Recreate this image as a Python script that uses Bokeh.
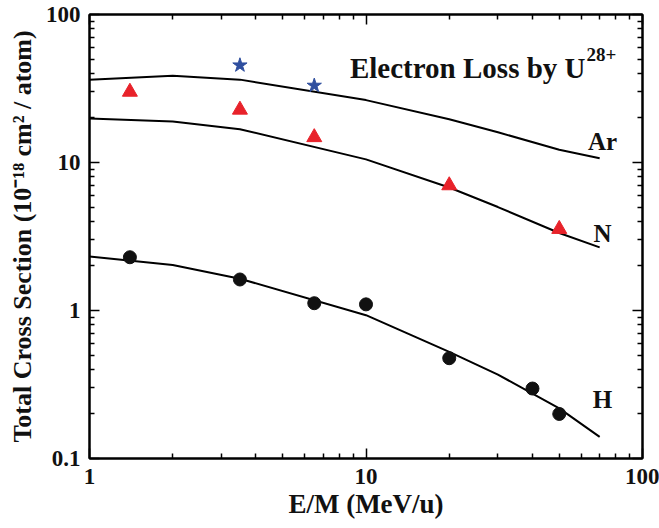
from bokeh.plotting import figure
from bokeh.models import LogAxis, FixedTicker, CustomJSTickFormatter, Label
from bokeh.embed import file_html
from bokeh.resources import INLINE

# ---- data ----
line_x = [1, 2, 3.5, 10, 20, 30, 50, 70]
ar_line = [36.3, 38.5, 36.3, 26.4, 19.6, 16.0, 12.2, 10.7]
n_line = [19.8, 18.9, 16.8, 10.5, 6.78, 5.0, 3.34, 2.67]
h_line = [2.32, 2.03, 1.64, 0.93, 0.526, 0.369, 0.218, 0.140]

ar_x = [3.5, 6.5]
ar_y = [45.4, 33.1]
n_x = [1.4, 3.5, 6.5, 20, 50]
n_y = [30.0, 22.7, 14.8, 7.0, 3.55]
h_x = [1.4, 3.5, 6.5, 10, 20, 40, 50]
h_y = [2.29, 1.62, 1.12, 1.10, 0.476, 0.297, 0.20]

x_major = [1, 10, 100]
x_minor = [2, 3, 4, 5, 6, 7, 8, 9, 20, 30, 40, 50, 60, 70, 80, 90]
y_major = [0.1, 1, 10, 100]
y_minor = [0.2, 0.3, 0.4, 0.5, 0.6, 0.7, 0.8, 0.9,
           2, 3, 4, 5, 6, 7, 8, 9, 20, 30, 40, 50, 60, 70, 80, 90]

FONT = "Liberation Serif"

p = figure(width=659, height=528, x_axis_type="log", y_axis_type="log",
           x_range=(1, 100), y_range=(0.1, 100),
           output_backend="svg", toolbar_location=None,
           min_border_left=89, min_border_right=17,
           min_border_top=14, min_border_bottom=70)
p.xgrid.visible = False
p.ygrid.visible = False
p.outline_line_color = "black"
p.outline_line_width = 2
p.background_fill_color = "white"
p.border_fill_color = "white"

def style_axis(ax, ticks, minor, labels=True):
    ax.ticker = FixedTicker(ticks=ticks, minor_ticks=minor)
    ax.axis_line_color = "black"
    ax.axis_line_width = 2
    ax.major_tick_in = 10
    ax.major_tick_out = 0
    ax.minor_tick_in = 5
    ax.minor_tick_out = 0
    ax.major_tick_line_width = 1.5
    ax.minor_tick_line_width = 1.5
    ax.major_tick_line_color = "black"
    ax.minor_tick_line_color = "black"
    ax.formatter = CustomJSTickFormatter(code="return String(tick);")
    if labels:
        ax.major_label_text_font = FONT
        ax.major_label_text_font_style = "bold"
        ax.major_label_text_font_size = "23px"
        ax.major_label_text_color = "#111111"
        ax.axis_label_text_font = FONT
        ax.axis_label_text_font_style = "bold"
        ax.axis_label_text_font_size = "27px"
        ax.axis_label_text_color = "#111111"
    else:
        ax.major_label_text_font_size = "1px"
        ax.major_label_text_alpha = 0
        ax.major_label_standoff = 0

style_axis(p.xaxis[0], x_major, x_minor)
style_axis(p.yaxis[0], y_major, y_minor)
p.xaxis[0].axis_label = "E/M (MeV/u)"
p.xaxis[0].major_label_standoff = 10
p.xaxis[0].axis_label_standoff = 2
p.yaxis[0].axis_label = "Total Cross Section (10\u207b\u00b9\u2078 cm\u00b2 / atom)"
p.yaxis[0].axis_label_text_font_size = "26px"
p.yaxis[0].major_label_standoff = 9
p.yaxis[0].axis_label_standoff = 6

top = LogAxis()
style_axis(top, x_major, x_minor, labels=False)
p.add_layout(top, "above")
right = LogAxis()
style_axis(right, y_major, y_minor, labels=False)
p.add_layout(right, "right")

# curves
for ys in (ar_line, n_line, h_line):
    p.line(line_x, ys, line_color="black", line_width=2)

# markers
p.scatter(ar_x, ar_y, marker="star", size=15, fill_color="#2f4f9f", line_color="#2f4f9f")
p.scatter(n_x, n_y, marker="triangle", size=15, fill_color="#e8222a", line_color="#e8222a")
p.scatter(h_x, h_y, marker="circle", size=13, fill_color="#111111", line_color="#111111")

# curve labels
for txt, yy in (("Ar", 13.8), ("N", 3.29), ("H", 0.25)):
    p.add_layout(Label(x=71.7, y=yy, text=txt, text_align="center", text_baseline="middle",
                       text_font=FONT, text_font_style="bold", text_font_size="25px",
                       text_color="#111111"))

# title inside plot
p.add_layout(Label(x=62.2, y=43.5, text="Electron Loss by U", text_align="right",
                   text_baseline="alphabetic", text_font=FONT, text_font_style="bold",
                   text_font_size="29px", text_color="#111111"))
p.add_layout(Label(x=62.2, y=53.3, text="28+", text_align="left", x_offset=1,
                   text_baseline="alphabetic", text_font=FONT, text_font_style="bold",
                   text_font_size="19px", text_color="#111111"))

open("out.html", "w").write(file_html(p, INLINE))
